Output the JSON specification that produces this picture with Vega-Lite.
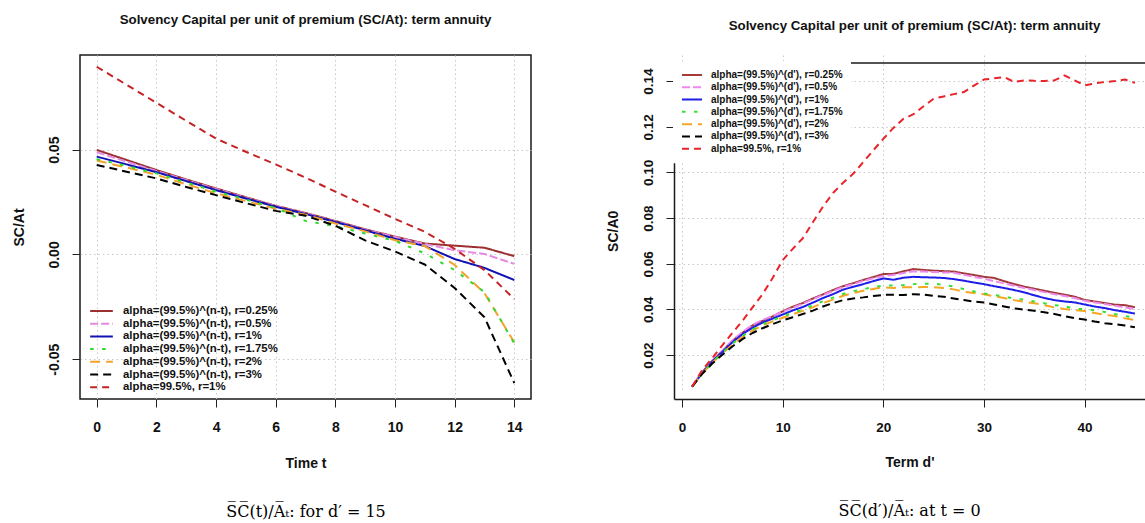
{
  "$schema": "https://vega.github.io/schema/vega-lite/v6.json",
  "padding": {"left": 11, "top": 12, "right": 0, "bottom": 0},
  "align": "none",
  "config": {
    "font": "Liberation Sans",
    "view": {"stroke": "#1a1a1a", "strokeWidth": 1.5},
    "axis": {"labelFont": "Liberation Sans", "labelFontWeight": "bold", "labelColor": "#111", "titleFont": "Liberation Sans", "titleFontWeight": "bold", "titleColor": "#111", "titleFontSize": 14, "labelFontSize": 14, "tickColor": "#222", "tickSize": 8, "domain": false, "domainColor": "#1a1a1a", "domainWidth": 1.5, "gridColor": "#c9c9c9", "gridDash": [1.5, 3], "gridWidth": 1},
    "title": {"font": "Liberation Sans", "fontSize": 13.3, "fontWeight": "bold", "color": "#111"},
    "line": {"strokeCap": "butt", "strokeJoin": "round"}
  },
  "spacing": 73,
  "resolve": {"scale": {"x": "independent", "y": "independent", "color": "independent", "strokeDash": "independent", "strokeWidth": "independent"}, "axis": {"x": "independent", "y": "independent"}, "legend": {"color": "independent"}},
  "datasets": {
    "left": [
      {"t":0,"s":"0.25","v":0.0499},{"t":1,"s":"0.25","v":0.0451},{"t":2,"s":"0.25","v":0.0403},{"t":3,"s":"0.25","v":0.0358},{"t":4,"s":"0.25","v":0.0315},{"t":5,"s":"0.25","v":0.0273},{"t":6,"s":"0.25","v":0.0232},{"t":7,"s":"0.25","v":0.0198},{"t":8,"s":"0.25","v":0.0160},{"t":9,"s":"0.25","v":0.0120},{"t":10,"s":"0.25","v":0.0085},{"t":11,"s":"0.25","v":0.0052},{"t":12,"s":"0.25","v":0.0042},{"t":13,"s":"0.25","v":0.0032},{"t":14,"s":"0.25","v":-0.0008},
      {"t":0,"s":"0.5","v":0.0488},{"t":1,"s":"0.5","v":0.0443},{"t":2,"s":"0.5","v":0.0398},{"t":3,"s":"0.5","v":0.0355},{"t":4,"s":"0.5","v":0.0312},{"t":5,"s":"0.5","v":0.0271},{"t":6,"s":"0.5","v":0.0231},{"t":7,"s":"0.5","v":0.0196},{"t":8,"s":"0.5","v":0.0158},{"t":9,"s":"0.5","v":0.0118},{"t":10,"s":"0.5","v":0.0083},{"t":11,"s":"0.5","v":0.0050},{"t":12,"s":"0.5","v":0.0020},{"t":13,"s":"0.5","v":0.0002},{"t":14,"s":"0.5","v":-0.0045},
      {"t":0,"s":"1","v":0.0467},{"t":1,"s":"1","v":0.0430},{"t":2,"s":"1","v":0.0393},{"t":3,"s":"1","v":0.0350},{"t":4,"s":"1","v":0.0307},{"t":5,"s":"1","v":0.0267},{"t":6,"s":"1","v":0.0228},{"t":7,"s":"1","v":0.0193},{"t":8,"s":"1","v":0.0155},{"t":9,"s":"1","v":0.0115},{"t":10,"s":"1","v":0.0075},{"t":11,"s":"1","v":0.0040},{"t":12,"s":"1","v":-0.0022},{"t":13,"s":"1","v":-0.0064},{"t":14,"s":"1","v":-0.0122},
      {"t":0,"s":"2","v":0.0448},{"t":1,"s":"2","v":0.0415},{"t":2,"s":"2","v":0.0380},{"t":3,"s":"2","v":0.0335},{"t":4,"s":"2","v":0.0292},{"t":5,"s":"2","v":0.0255},{"t":6,"s":"2","v":0.0218},{"t":7,"s":"2","v":0.0190},{"t":8,"s":"2","v":0.0148},{"t":9,"s":"2","v":0.0110},{"t":10,"s":"2","v":0.0068},{"t":11,"s":"2","v":0.0040},{"t":12,"s":"2","v":-0.0050},{"t":13,"s":"2","v":-0.0185},{"t":14,"s":"2","v":-0.0420},
      {"t":0,"s":"1.75","v":0.0455},{"t":1,"s":"1.75","v":0.0422},{"t":2,"s":"1.75","v":0.0387},{"t":3,"s":"1.75","v":0.0343},{"t":4,"s":"1.75","v":0.0300},{"t":5,"s":"1.75","v":0.0262},{"t":6,"s":"1.75","v":0.0222},{"t":7,"s":"1.75","v":0.0160},{"t":8,"s":"1.75","v":0.0135},{"t":9,"s":"1.75","v":0.0100},{"t":10,"s":"1.75","v":0.0065},{"t":11,"s":"1.75","v":0.0005},{"t":12,"s":"1.75","v":-0.0075},{"t":13,"s":"1.75","v":-0.0180},{"t":14,"s":"1.75","v":-0.0425},
      {"t":0,"s":"3","v":0.0427},{"t":1,"s":"3","v":0.0395},{"t":2,"s":"3","v":0.0363},{"t":3,"s":"3","v":0.0322},{"t":4,"s":"3","v":0.0283},{"t":5,"s":"3","v":0.0245},{"t":6,"s":"3","v":0.0208},{"t":7,"s":"3","v":0.0185},{"t":8,"s":"3","v":0.0137},{"t":9,"s":"3","v":0.0067},{"t":10,"s":"3","v":0.0014},{"t":11,"s":"3","v":-0.0048},{"t":12,"s":"3","v":-0.0160},{"t":13,"s":"3","v":-0.0300},{"t":14,"s":"3","v":-0.0614},
      {"t":0,"s":"c","v":0.0896},{"t":1,"s":"c","v":0.0810},{"t":2,"s":"c","v":0.0724},{"t":3,"s":"c","v":0.0638},{"t":4,"s":"c","v":0.0553},{"t":5,"s":"c","v":0.0490},{"t":6,"s":"c","v":0.0430},{"t":7,"s":"c","v":0.0367},{"t":8,"s":"c","v":0.0300},{"t":9,"s":"c","v":0.0235},{"t":10,"s":"c","v":0.0170},{"t":11,"s":"c","v":0.0108},{"t":12,"s":"c","v":0.0027},{"t":13,"s":"c","v":-0.0075},{"t":14,"s":"c","v":-0.0213}
    ],
    "right": [
      {"d":1,"s":"0.25","v":0.0062},{"d":2,"s":"0.25","v":0.0124},{"d":3,"s":"0.25","v":0.0175},{"d":4,"s":"0.25","v":0.0218},{"d":5,"s":"0.25","v":0.0262},{"d":6,"s":"0.25","v":0.0298},{"d":7,"s":"0.25","v":0.0330},{"d":8,"s":"0.25","v":0.0350},{"d":9,"s":"0.25","v":0.0370},{"d":10,"s":"0.25","v":0.0392},
      {"d":11,"s":"0.25","v":0.0412},{"d":12,"s":"0.25","v":0.0428},{"d":13,"s":"0.25","v":0.0448},{"d":14,"s":"0.25","v":0.0466},{"d":15,"s":"0.25","v":0.0485},{"d":16,"s":"0.25","v":0.0502},{"d":17,"s":"0.25","v":0.0515},{"d":18,"s":"0.25","v":0.0529},{"d":19,"s":"0.25","v":0.0542},{"d":20,"s":"0.25","v":0.0555},
      {"d":21,"s":"0.25","v":0.0556},{"d":22,"s":"0.25","v":0.0567},{"d":23,"s":"0.25","v":0.0577},{"d":24,"s":"0.25","v":0.0573},{"d":25,"s":"0.25","v":0.0570},{"d":26,"s":"0.25","v":0.0568},{"d":27,"s":"0.25","v":0.0566},{"d":28,"s":"0.25","v":0.0558},{"d":29,"s":"0.25","v":0.0551},{"d":30,"s":"0.25","v":0.0543},
      {"d":31,"s":"0.25","v":0.0538},{"d":32,"s":"0.25","v":0.0524},{"d":33,"s":"0.25","v":0.0511},{"d":34,"s":"0.25","v":0.0500},{"d":35,"s":"0.25","v":0.0491},{"d":36,"s":"0.25","v":0.0482},{"d":37,"s":"0.25","v":0.0473},{"d":38,"s":"0.25","v":0.0465},{"d":39,"s":"0.25","v":0.0456},{"d":40,"s":"0.25","v":0.0442},
      {"d":41,"s":"0.25","v":0.0435},{"d":42,"s":"0.25","v":0.0428},{"d":43,"s":"0.25","v":0.0421},{"d":44,"s":"0.25","v":0.0419},{"d":45,"s":"0.25","v":0.0410},
      {"d":1,"s":"0.5","v":0.0062},{"d":2,"s":"0.5","v":0.0124},{"d":3,"s":"0.5","v":0.0176},{"d":4,"s":"0.5","v":0.0220},{"d":5,"s":"0.5","v":0.0265},{"d":6,"s":"0.5","v":0.0301},{"d":7,"s":"0.5","v":0.0333},{"d":8,"s":"0.5","v":0.0354},{"d":9,"s":"0.5","v":0.0371},{"d":10,"s":"0.5","v":0.0390},
      {"d":11,"s":"0.5","v":0.0408},{"d":12,"s":"0.5","v":0.0425},{"d":13,"s":"0.5","v":0.0445},{"d":14,"s":"0.5","v":0.0463},{"d":15,"s":"0.5","v":0.0481},{"d":16,"s":"0.5","v":0.0498},{"d":17,"s":"0.5","v":0.0511},{"d":18,"s":"0.5","v":0.0525},{"d":19,"s":"0.5","v":0.0537},{"d":20,"s":"0.5","v":0.0547},
      {"d":21,"s":"0.5","v":0.0551},{"d":22,"s":"0.5","v":0.0560},{"d":23,"s":"0.5","v":0.0567},{"d":24,"s":"0.5","v":0.0566},{"d":25,"s":"0.5","v":0.0564},{"d":26,"s":"0.5","v":0.0562},{"d":27,"s":"0.5","v":0.0561},{"d":28,"s":"0.5","v":0.0552},{"d":29,"s":"0.5","v":0.0543},{"d":30,"s":"0.5","v":0.0535},
      {"d":31,"s":"0.5","v":0.0524},{"d":32,"s":"0.5","v":0.0514},{"d":33,"s":"0.5","v":0.0504},{"d":34,"s":"0.5","v":0.0494},{"d":35,"s":"0.5","v":0.0485},{"d":36,"s":"0.5","v":0.0476},{"d":37,"s":"0.5","v":0.0467},{"d":38,"s":"0.5","v":0.0459},{"d":39,"s":"0.5","v":0.0450},{"d":40,"s":"0.5","v":0.0438},
      {"d":41,"s":"0.5","v":0.0431},{"d":42,"s":"0.5","v":0.0424},{"d":43,"s":"0.5","v":0.0416},{"d":44,"s":"0.5","v":0.0409},{"d":45,"s":"0.5","v":0.0402},
      {"d":1,"s":"1","v":0.0062},{"d":2,"s":"1","v":0.0122},{"d":3,"s":"1","v":0.0172},{"d":4,"s":"1","v":0.0214},{"d":5,"s":"1","v":0.0256},{"d":6,"s":"1","v":0.0292},{"d":7,"s":"1","v":0.0320},{"d":8,"s":"1","v":0.0343},{"d":9,"s":"1","v":0.0360},{"d":10,"s":"1","v":0.0378},
      {"d":11,"s":"1","v":0.0396},{"d":12,"s":"1","v":0.0411},{"d":13,"s":"1","v":0.0430},{"d":14,"s":"1","v":0.0450},{"d":15,"s":"1","v":0.0467},{"d":16,"s":"1","v":0.0487},{"d":17,"s":"1","v":0.0499},{"d":18,"s":"1","v":0.0511},{"d":19,"s":"1","v":0.0524},{"d":20,"s":"1","v":0.0536},
      {"d":21,"s":"1","v":0.0530},{"d":22,"s":"1","v":0.0539},{"d":23,"s":"1","v":0.0543},{"d":24,"s":"1","v":0.0541},{"d":25,"s":"1","v":0.0540},{"d":26,"s":"1","v":0.0538},{"d":27,"s":"1","v":0.0533},{"d":28,"s":"1","v":0.0526},{"d":29,"s":"1","v":0.0518},{"d":30,"s":"1","v":0.0511},
      {"d":31,"s":"1","v":0.0502},{"d":32,"s":"1","v":0.0494},{"d":33,"s":"1","v":0.0485},{"d":34,"s":"1","v":0.0475},{"d":35,"s":"1","v":0.0462},{"d":36,"s":"1","v":0.0450},{"d":37,"s":"1","v":0.0441},{"d":38,"s":"1","v":0.0435},{"d":39,"s":"1","v":0.0431},{"d":40,"s":"1","v":0.0422},
      {"d":41,"s":"1","v":0.0413},{"d":42,"s":"1","v":0.0406},{"d":43,"s":"1","v":0.0397},{"d":44,"s":"1","v":0.0390},{"d":45,"s":"1","v":0.0382},
      {"d":1,"s":"2","v":0.0062},{"d":2,"s":"2","v":0.0119},{"d":3,"s":"2","v":0.0166},{"d":4,"s":"2","v":0.0207},{"d":5,"s":"2","v":0.0246},{"d":6,"s":"2","v":0.0280},{"d":7,"s":"2","v":0.0308},{"d":8,"s":"2","v":0.0330},{"d":9,"s":"2","v":0.0348},{"d":10,"s":"2","v":0.0364},
      {"d":11,"s":"2","v":0.0379},{"d":12,"s":"2","v":0.0394},{"d":13,"s":"2","v":0.0410},{"d":14,"s":"2","v":0.0428},{"d":15,"s":"2","v":0.0443},{"d":16,"s":"2","v":0.0460},{"d":17,"s":"2","v":0.0472},{"d":18,"s":"2","v":0.0482},{"d":19,"s":"2","v":0.0490},{"d":20,"s":"2","v":0.0497},
      {"d":21,"s":"2","v":0.0494},{"d":22,"s":"2","v":0.0497},{"d":23,"s":"2","v":0.0497},{"d":24,"s":"2","v":0.0498},{"d":25,"s":"2","v":0.0498},{"d":26,"s":"2","v":0.0494},{"d":27,"s":"2","v":0.0488},{"d":28,"s":"2","v":0.0478},{"d":29,"s":"2","v":0.0472},{"d":30,"s":"2","v":0.0467},
      {"d":31,"s":"2","v":0.0458},{"d":32,"s":"2","v":0.0450},{"d":33,"s":"2","v":0.0441},{"d":34,"s":"2","v":0.0434},{"d":35,"s":"2","v":0.0427},{"d":36,"s":"2","v":0.0419},{"d":37,"s":"2","v":0.0409},{"d":38,"s":"2","v":0.0402},{"d":39,"s":"2","v":0.0397},{"d":40,"s":"2","v":0.0393},
      {"d":41,"s":"2","v":0.0385},{"d":42,"s":"2","v":0.0377},{"d":43,"s":"2","v":0.0371},{"d":44,"s":"2","v":0.0361},{"d":45,"s":"2","v":0.0354},
      {"d":1,"s":"1.75","v":0.0062},{"d":2,"s":"1.75","v":0.0120},{"d":3,"s":"1.75","v":0.0168},{"d":4,"s":"1.75","v":0.0210},{"d":5,"s":"1.75","v":0.0250},{"d":6,"s":"1.75","v":0.0284},{"d":7,"s":"1.75","v":0.0312},{"d":8,"s":"1.75","v":0.0335},{"d":9,"s":"1.75","v":0.0353},{"d":10,"s":"1.75","v":0.0370},
      {"d":11,"s":"1.75","v":0.0386},{"d":12,"s":"1.75","v":0.0400},{"d":13,"s":"1.75","v":0.0418},{"d":14,"s":"1.75","v":0.0436},{"d":15,"s":"1.75","v":0.0452},{"d":16,"s":"1.75","v":0.0468},{"d":17,"s":"1.75","v":0.0480},{"d":18,"s":"1.75","v":0.0489},{"d":19,"s":"1.75","v":0.0498},{"d":20,"s":"1.75","v":0.0504},
      {"d":21,"s":"1.75","v":0.0505},{"d":22,"s":"1.75","v":0.0507},{"d":23,"s":"1.75","v":0.0511},{"d":24,"s":"1.75","v":0.0513},{"d":25,"s":"1.75","v":0.0513},{"d":26,"s":"1.75","v":0.0508},{"d":27,"s":"1.75","v":0.0501},{"d":28,"s":"1.75","v":0.0489},{"d":29,"s":"1.75","v":0.0479},{"d":30,"s":"1.75","v":0.0470},
      {"d":31,"s":"1.75","v":0.0464},{"d":32,"s":"1.75","v":0.0457},{"d":33,"s":"1.75","v":0.0448},{"d":34,"s":"1.75","v":0.0443},{"d":35,"s":"1.75","v":0.0435},{"d":36,"s":"1.75","v":0.0427},{"d":37,"s":"1.75","v":0.0419},{"d":38,"s":"1.75","v":0.0415},{"d":39,"s":"1.75","v":0.0402},{"d":40,"s":"1.75","v":0.0402},
      {"d":41,"s":"1.75","v":0.0396},{"d":42,"s":"1.75","v":0.0389},{"d":43,"s":"1.75","v":0.0380},{"d":44,"s":"1.75","v":0.0371},{"d":45,"s":"1.75","v":0.0364},
      {"d":1,"s":"3","v":0.0062},{"d":2,"s":"3","v":0.0118},{"d":3,"s":"3","v":0.0163},{"d":4,"s":"3","v":0.0202},{"d":5,"s":"3","v":0.0238},{"d":6,"s":"3","v":0.0270},{"d":7,"s":"3","v":0.0297},{"d":8,"s":"3","v":0.0318},{"d":9,"s":"3","v":0.0336},{"d":10,"s":"3","v":0.0352},
      {"d":11,"s":"3","v":0.0366},{"d":12,"s":"3","v":0.0380},{"d":13,"s":"3","v":0.0395},{"d":14,"s":"3","v":0.0413},{"d":15,"s":"3","v":0.0428},{"d":16,"s":"3","v":0.0441},{"d":17,"s":"3","v":0.0448},{"d":18,"s":"3","v":0.0453},{"d":19,"s":"3","v":0.0459},{"d":20,"s":"3","v":0.0464},
      {"d":21,"s":"3","v":0.0464},{"d":22,"s":"3","v":0.0463},{"d":23,"s":"3","v":0.0467},{"d":24,"s":"3","v":0.0465},{"d":25,"s":"3","v":0.0460},{"d":26,"s":"3","v":0.0456},{"d":27,"s":"3","v":0.0448},{"d":28,"s":"3","v":0.0441},{"d":29,"s":"3","v":0.0435},{"d":30,"s":"3","v":0.0431},
      {"d":31,"s":"3","v":0.0422},{"d":32,"s":"3","v":0.0413},{"d":33,"s":"3","v":0.0405},{"d":34,"s":"3","v":0.0399},{"d":35,"s":"3","v":0.0394},{"d":36,"s":"3","v":0.0388},{"d":37,"s":"3","v":0.0380},{"d":38,"s":"3","v":0.0371},{"d":39,"s":"3","v":0.0362},{"d":40,"s":"3","v":0.0356},
      {"d":41,"s":"3","v":0.0347},{"d":42,"s":"3","v":0.0340},{"d":43,"s":"3","v":0.0336},{"d":44,"s":"3","v":0.0330},{"d":45,"s":"3","v":0.0322},
      {"d":1,"s":"c","v":0.0062},{"d":2,"s":"c","v":0.0135},{"d":3,"s":"c","v":0.0187},{"d":4,"s":"c","v":0.0243},{"d":5,"s":"c","v":0.0297},{"d":6,"s":"c","v":0.0350},{"d":7,"s":"c","v":0.0409},{"d":8,"s":"c","v":0.0467},{"d":9,"s":"c","v":0.0538},{"d":10,"s":"c","v":0.0616},
      {"d":11,"s":"c","v":0.0665},{"d":12,"s":"c","v":0.0712},{"d":13,"s":"c","v":0.0782},{"d":14,"s":"c","v":0.0850},{"d":15,"s":"c","v":0.0910},{"d":16,"s":"c","v":0.0955},{"d":17,"s":"c","v":0.0994},{"d":18,"s":"c","v":0.1045},{"d":19,"s":"c","v":0.1097},{"d":20,"s":"c","v":0.1147},
      {"d":21,"s":"c","v":0.1195},{"d":22,"s":"c","v":0.1235},{"d":23,"s":"c","v":0.1255},{"d":24,"s":"c","v":0.1290},{"d":25,"s":"c","v":0.1323},{"d":26,"s":"c","v":0.1333},{"d":27,"s":"c","v":0.1343},{"d":28,"s":"c","v":0.1352},{"d":29,"s":"c","v":0.1380},{"d":30,"s":"c","v":0.1407},
      {"d":31,"s":"c","v":0.1412},{"d":32,"s":"c","v":0.1418},{"d":33,"s":"c","v":0.1396},{"d":34,"s":"c","v":0.1403},{"d":35,"s":"c","v":0.1401},{"d":36,"s":"c","v":0.1400},{"d":37,"s":"c","v":0.1403},{"d":38,"s":"c","v":0.1425},{"d":39,"s":"c","v":0.1403},{"d":40,"s":"c","v":0.1381},
      {"d":41,"s":"c","v":0.1390},{"d":42,"s":"c","v":0.1396},{"d":43,"s":"c","v":0.1400},{"d":44,"s":"c","v":0.1407},{"d":45,"s":"c","v":0.1392}
    ]
  },
  "hconcat": [
    {
      "width": 451,
      "height": 344,
      "data": {"name": "left"},
      "title": {"text": "Solvency Capital per unit of premium (SC/At): term annuity", "offset": 28.7, "anchor": "middle"},
      "encoding": {
        "y": {"field": "v", "type": "quantitative", "scale": {"domain": [-0.069, 0.0952], "nice": false, "zero": false},
          "axis": {"title": "SC/At", "values": [-0.05, 0, 0.05], "labelExpr": "replace(format(datum.value, '.2f'), '\u2212', '-')", "labelAngle": -90, "labelAlign": "center", "labelBaseline": "bottom", "labelPadding": 11, "titlePadding": 21}},
        "color": {"field": "s", "type": "nominal",
          "scale": {"domain": ["0.25", "0.5", "1", "1.75", "2", "3", "c"], "range": ["#9C2F2F", "#E38AE3", "#1212B4", "#2FD82F", "#F0A32A", "#000000", "#C42326"]},
          "legend": {"orient": "none", "legendX": 9, "legendY": 250, "title": null, "padding": 0, "rowPadding": 0.7, "clipHeight": 12, "symbolType": "stroke", "symbolSize": 515, "symbolStrokeWidth": 2.5, "labelFontSize": 11.4, "labelFontWeight": "bold", "labelFont": "Liberation Sans", "labelColor": "#111", "labelOffset": 9, "labelLimit": 400,
            "labelExpr": "datum.value === 'c' ? 'alpha=99.5%, r=1%' : 'alpha=(99.5%)^(n-t), r=' + datum.value + '%'",
            "encode": {"symbols": {"strokeDash": {"signal": "datum.value === '0.5' ? [7,5] : datum.value === '1' ? [3,6] : datum.value === '1.75' ? [0,5,12,100] : datum.value === 'c' ? [4,6,13,10] : [1,0]"}, "strokeWidth": {"value": 2.7}}}}},
        "strokeDash": {"field": "s", "type": "nominal", "legend": null,
          "scale": {"domain": ["0.25", "0.5", "1", "1.75", "2", "3", "c"], "range": [[1, 0], [8, 3], [1, 0], [3.5, 8.5], [10, 6], [8, 5], [7, 5]]}},
        "strokeWidth": {"field": "s", "type": "ordinal", "legend": null,
          "scale": {"domain": ["0.25", "0.5", "1", "1.75", "2", "3", "c"], "range": [2, 2, 2, 3.5, 3, 1.7, 2.5]}}
      },
      "layer": [
        {
          "transform": [{"filter": "datum.s !== 'c'"}],
          "mark": {"type": "line", "clip": true},
          "encoding": {
            "x": {"field": "t", "type": "quantitative", "scale": {"domain": [-0.56, 14.56], "nice": false, "zero": false},
              "axis": {"title": "Time t", "values": [0, 2, 4, 6, 8, 10, 12, 14], "format": "d", "labelAngle": 0, "labelPadding": 13, "titlePadding": 22}}
          }
        },
        {
          "transform": [{"filter": "datum.s === 'c'"}],
          "mark": {"type": "line", "clip": true},
          "encoding": {
            "x": {"field": "t", "type": "quantitative", "scale": {"domain": [-0.56, 14.56], "nice": false, "zero": false},
              "axis": {"orient": "bottom", "title": "S\u0305C\u0305(t)/A\u0305\u209c: for d\u2032 = 15", "labels": false, "ticks": false, "grid": false, "domain": false, "titleFont": "DejaVu Serif", "titleFontWeight": "normal", "titleFontSize": 16, "titleColor": "#000", "titlePadding": 104}}
          }
        }
      ],
      "resolve": {"axis": {"x": "independent"}}
    },
    {
      "width": 471,
      "height": 344,
      "data": {"name": "right"},
      "view": {"stroke": null},
      "title": {"text": "S\u0305C\u0305(d\u2032)/A\u0305\u209c: at t = 0", "orient": "bottom", "offset": 33, "anchor": "middle", "font": "DejaVu Serif", "fontWeight": "normal", "fontSize": 16, "color": "#000"},
      "encoding": {
        "y": {"field": "v", "type": "quantitative", "scale": {"domain": [0.0008, 0.1481], "range": [344, 7.6], "nice": false, "zero": false},
          "axis": {"title": "SC/A0", "values": [0.02, 0.04, 0.06, 0.08, 0.1, 0.12, 0.14], "format": ".2f", "domain": true, "labelFontSize": 13.5, "labelAngle": -90, "labelAlign": "center", "labelBaseline": "bottom", "labelPadding": 11, "titlePadding": 21}},
        "color": {"field": "s", "type": "nominal",
          "scale": {"domain": ["0.25", "0.5", "1", "1.75", "2", "3", "c"], "range": ["#A23A3A", "#EE88EE", "#1E1EE6", "#33E133", "#F5A623", "#000000", "#E8242A"]},
          "legend": {"orient": "none", "legendX": -1, "legendY": 6.3, "title": null, "padding": 8, "fillColor": "#ffffff", "strokeColor": null, "rowPadding": 0.3, "clipHeight": 11.3, "symbolType": "stroke", "symbolSize": 400, "symbolStrokeWidth": 2.5, "labelFontSize": 10, "labelFontWeight": "bold", "labelFont": "Liberation Sans", "labelColor": "#111", "labelOffset": 8, "labelLimit": 400,
            "labelExpr": "datum.value === 'c' ? 'alpha=99.5%, r=1%' : \"alpha=(99.5%)^(d'), r=\" + datum.value + '%'",
            "encode": {"symbols": {"strokeDash": {"signal": "datum.value === '0.5' ? [6,4] : datum.value === '1' ? [3,6] : datum.value === '1.75' ? [0,4,10,100] : datum.value === 'c' ? [4,6,11,10] : [1,0]"}, "strokeWidth": {"value": 2.7}}}}},
        "strokeDash": {"field": "s", "type": "nominal", "legend": null,
          "scale": {"domain": ["0.25", "0.5", "1", "1.75", "2", "3", "c"], "range": [[1, 0], [8, 3], [1, 0], [3.5, 8.5], [10, 6], [8, 5], [7, 5]]}},
        "strokeWidth": {"field": "s", "type": "ordinal", "legend": null,
          "scale": {"domain": ["0.25", "0.5", "1", "1.75", "2", "3", "c"], "range": [2, 2, 2, 3.5, 3, 1.7, 2.5]}}
      },
      "layer": [
        {
          "transform": [{"filter": "datum.s !== 'c'"}],
          "mark": {"type": "line", "clip": true},
          "encoding": {
            "x": {"field": "d", "type": "quantitative", "scale": {"domain": [-0.8, 46.0], "nice": false, "zero": false},
              "axis": {"title": "Term d'", "values": [0, 10, 20, 30, 40], "format": "d", "domain": true, "labelAngle": 0, "labelFontSize": 13.5, "labelPadding": 13, "titlePadding": 22}}
          }
        },
        {
          "transform": [{"filter": "datum.s === 'c'"}],
          "mark": {"type": "line", "clip": true},
          "encoding": {
            "x": {"field": "d", "type": "quantitative", "scale": {"domain": [-0.8, 46.0], "nice": false, "zero": false},
              "axis": {"orient": "top", "offset": -7.6, "title": "Solvency Capital per unit of premium (SC/At): term annuity", "labels": false, "ticks": false, "grid": false, "domain": true, "titleFont": "Liberation Sans", "titleFontWeight": "bold", "titleFontSize": 13.3, "titleColor": "#111", "titlePadding": 30, "titleX": 240}}
          }
        }
      ],
      "resolve": {"axis": {"x": "independent"}}
    }
  ]
}
